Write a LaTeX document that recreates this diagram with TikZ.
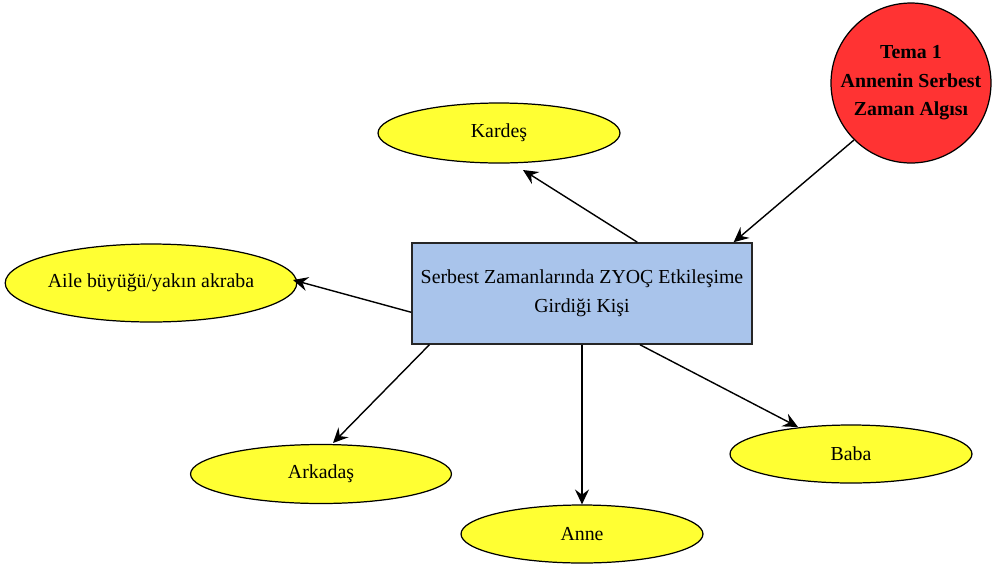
\documentclass[tikz,border=0pt]{standalone}
\usepackage{fontspec}
\setmainfont{Liberation Serif}
\usetikzlibrary{shapes.geometric,arrows.meta,calc}
\definecolor{ylw}{HTML}{FFFF33}
\definecolor{rd}{HTML}{FF3333}
\definecolor{blu}{HTML}{A9C4EB}
\begin{document}
\begin{tikzpicture}[x=0.02cm,y=-0.02cm,
  txt/.style={font=\fontsize{11.3}{16.4}\selectfont, align=center, inner sep=0pt},
  oval/.style={txt, ellipse, draw=black, line width=0.7pt, fill=ylw},
  mainbox/.style={txt, rectangle, draw=black!85, line width=0.9pt, fill=blu, minimum width=6.8cm, minimum height=2.02cm},
  theme/.style={txt, circle, draw=black, line width=0.7pt, fill=rd, minimum size=3.2cm, font=\fontsize{11.3}{16.2}\selectfont\bfseries},
  conn/.style={line width=0.8pt, -{Stealth[length=8.5pt,width=8pt,inset=3pt]}}]
\useasboundingbox (0,0) rectangle (992,569);
\node[theme] (c) at (911,83) {Tema 1\\Annenin Serbest\\Zaman Algısı};
\node[mainbox] (r) at (582,293.5) {Serbest Zamanlarında ZYOÇ Etkileşime\\Girdiği Kişi};
\node[oval, minimum width=4.84cm, minimum height=1.2cm] (k) at (499,133) {Kardeş};
\node[oval, minimum width=5.66cm, minimum height=1.56cm] (a) at (151,283) {Aile büyüğü/yakın akraba};
\node[oval, minimum width=5.22cm, minimum height=1.18cm] (ar) at (321,474) {Arkadaş};
\node[oval, minimum width=4.84cm, minimum height=1.16cm] (an) at (582,534) {Anne};
\node[oval, minimum width=4.84cm, minimum height=1.16cm] (b) at (851,454) {Baba};
\coordinate (kt) at (523,170);
\coordinate (at) at (293,280);
\coordinate (art) at (333,443);
\coordinate (bt) at (798,427);
\draw[conn] (c.225) -- ($(r.north west)!0.944!(r.north east)$);
\draw[conn] ($(r.north west)!0.662!(r.north east)$) -- (kt);
\draw[conn] ($(r.north west)!0.683!(r.south west)$) -- (at);
\draw[conn] ($(r.south west)!0.053!(r.south east)$) -- (art);
\draw[conn] (r.south) -- (an.north);
\draw[conn] ($(r.south west)!0.670!(r.south east)$) -- (bt);
\end{tikzpicture}
\end{document}
